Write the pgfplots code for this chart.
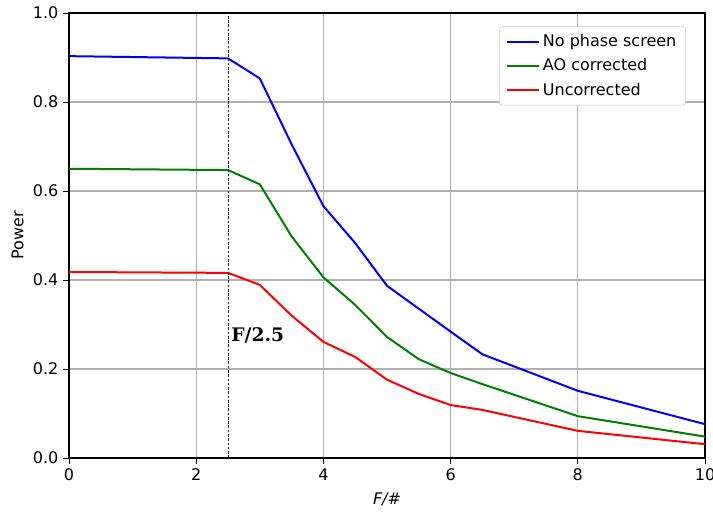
\documentclass[border=0pt]{standalone}
\usepackage{fontspec}
\setmainfont{DejaVu Sans}
\newfontfamily\serifbold{DejaVu Serif}
\usepackage{pgfplots}
\pgfplotsset{compat=1.18}
\definecolor{mplgreen}{RGB}{0,128,0}
\definecolor{gridgray}{RGB}{176,176,176}
\begin{document}
\begin{tikzpicture}
\begin{axis}[
  scale only axis,
  width=477pt, height=333.75pt,
  xmin=0, xmax=10, ymin=0, ymax=1,
  xtick={0,2,4,6,8,10},
  ytick={0,0.2,0.4,0.6,0.8,1.0},
  yticklabel style={/pgf/number format/.cd,fixed,fixed zerofill,precision=1},
  /pgf/number format/assume math mode=true,
  tick align=outside,
  tick pos=left,
  major tick length=4.5pt,
  tick style={black, line width=0.6pt},
  grid=major,
  major grid style={gridgray, line width=0.8pt},
  axis line style={line width=0.8pt},
  ticklabel style={font=\fontsize{12}{14}\selectfont},
  xlabel={\textit{F/\#}},
  ylabel={Power},
  xlabel style={yshift=-2pt},
  label style={font=\fontsize{12}{14}\selectfont},
  legend style={at={(0.97,0.97)}, anchor=north east, draw=gridgray!70, rounded corners=2pt,
    font=\fontsize{12}{14}\selectfont, row sep=3.5pt, inner xsep=5pt, inner ysep=4pt},
  legend cell align=left,
  legend image code/.code={\draw[#1] (0pt,0pt) -- (24pt,0pt);},
]
\addplot[blue, line width=1.5pt] coordinates {
(0,0.903) (2.5,0.898) (3,0.853) (3.5,0.705) (4,0.566) (4.5,0.483) (5,0.387) (6,0.284) (6.5,0.233) (8,0.151) (10,0.076)};
\addlegendentry{No phase screen}
\addplot[mplgreen, line width=1.5pt] coordinates {
(0,0.650) (2.5,0.647) (3,0.615) (3.5,0.498) (4,0.406) (4.5,0.344) (5,0.272) (5.5,0.222) (6,0.191) (6.5,0.166) (8,0.094) (10,0.048)};
\addlegendentry{AO corrected}
\addplot[red, line width=1.5pt] coordinates {
(0,0.418) (2.5,0.416) (3,0.389) (3.5,0.320) (4,0.261) (4.5,0.227) (5,0.176) (5.5,0.144) (6,0.119) (6.5,0.108) (8,0.061) (10,0.031)};
\addlegendentry{Uncorrected}
\addplot[black!85, dash pattern=on 2pt off 1.2pt, line width=0.45pt, forget plot] coordinates {(2.5,0) (2.5,1)};
\node[anchor=base west, inner sep=0pt, font=\serifbold\bfseries\fontsize{14}{16}\selectfont] at (axis cs:2.55,0.262) {F/2.5};
\end{axis}
\pgfresetboundingbox
\useasboundingbox (current axis.south west) ++(-51.75pt,-40.5pt) rectangle ([shift={(6pt,9.75pt)}]current axis.north east);
\end{tikzpicture}
\end{document}
